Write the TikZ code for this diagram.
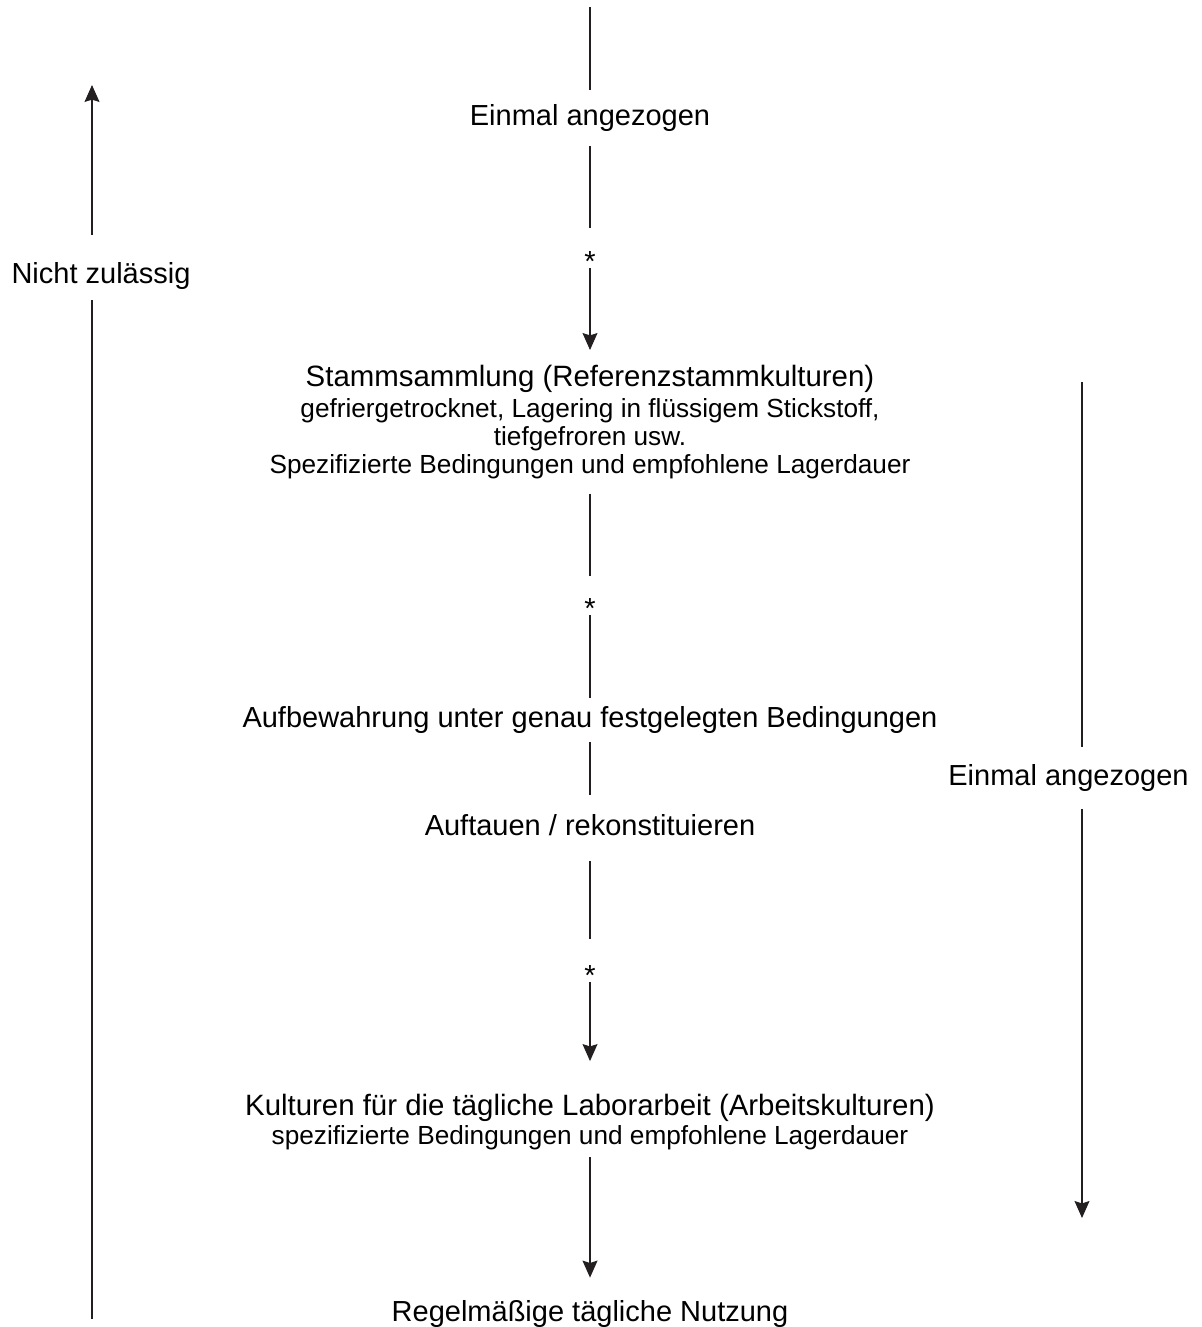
\documentclass[tikz,border=0pt]{standalone}
\usepackage{fontspec}
\setmainfont{Liberation Sans}
\usepackage{xcolor}
\usepackage{tikz}
\usetikzlibrary{arrows.meta}
\definecolor{ink}{RGB}{35,31,32}

\begin{document}
\begin{tikzpicture}[x=0.5pt,y=-0.5pt]
\tikzstyle{every node}+=[inner sep=0pt]
\tikzstyle{maintext}=[font=\fontsize{14.5}{16}\selectfont, text height=10.5pt, text depth=3pt]
\tikzstyle{blocktext}=[font=\fontsize{13.1}{14}\selectfont, align=center]
\tikzstyle{astnode}=[font=\fontsize{14.5}{16}\selectfont, text depth=0pt, anchor=south]
\tikzstyle{link}=[ink, line width=0.55pt]
\tikzstyle{arr}=[link, -{Stealth[length=8.5pt,width=7.5pt,inset=1.2pt]}]
\useasboundingbox (0,0) rectangle (1201,1327);
\coordinate (topend) at (590,7);
\node [maintext, inner ysep=7.25pt] (firstpull) at (590,118) {Einmal angezogen};
\node [astnode, text height=19.5pt] (ast1) at (590,268) {\raisebox{-1.75pt}{*}};
\node [blocktext, anchor=north, inner ysep=7.3pt] (stamm) at (590,350) {{\fontsize{14.7}{14}\selectfont Stammsammlung (Referenzstammkulturen)}\\[1.5pt]
  gefriergetrocknet, Lagering in flüssigem Stickstoff,\\
  tiefgefroren usw.\\
  Spezifizierte Bedingungen und empfohlene Lagerdauer};
\node [astnode, text height=19pt] (ast2) at (590,615) {\raisebox{-1.75pt}{*}};
\node [maintext, inner ysep=4.25pt] (aufb) at (590,720) {Aufbewahrung unter genau festgelegten Bedingungen};
\node [maintext, inner ysep=9.5pt] (auftau) at (590,828) {Auftauen / rekonstituieren};
\node [astnode, text height=21pt] (ast3) at (590,982) {\raisebox{-1.75pt}{*}};
\node [blocktext, anchor=south, inner ysep=3.5pt] (kult) at (590,1157) {{\fontsize{14.7}{14}\selectfont Kulturen für die tägliche Laborarbeit (Arbeitskulturen)}\\[0.5pt]
  spezifizierte Bedingungen und empfohlene Lagerdauer};
\node [maintext, inner ysep=11.25pt] (regel) at (590,1314) {Regelmäßige tägliche Nutzung};
\coordinate (lefttop) at (92,85);
\coordinate (leftbot) at (92,1319);
\node [maintext, inner ysep=5pt] (nichtzul) at (101,276) {Nicht zulässig};
\coordinate (righttop) at (1082,382);
\coordinate (rightbot) at (1082,1218);
\node [maintext, inner ysep=8.5pt] (secondpull) at (1068.5,778) {Einmal angezogen};
\draw [link] (topend) -- (firstpull);
\draw [link] (firstpull) -- (ast1);
\draw [arr] (ast1) -- (stamm);
\draw [link] (stamm) -- (ast2);
\draw [link] (ast2) -- (aufb);
\draw [link] (aufb) -- (auftau);
\draw [link] (auftau) -- (ast3);
\draw [arr, shorten >=12.7pt] (ast3) -- (kult);
\draw [arr] (kult) -- (regel);
\draw [arr, shorten <=8.75pt] (nichtzul.north -| lefttop) -- (lefttop);
\draw [link] (nichtzul.south -| leftbot) -- (leftbot);
\draw [link] (righttop) -- (secondpull.north -| righttop);
\draw [arr] (secondpull.south -| rightbot) -- (rightbot);
\end{tikzpicture}
\end{document}
